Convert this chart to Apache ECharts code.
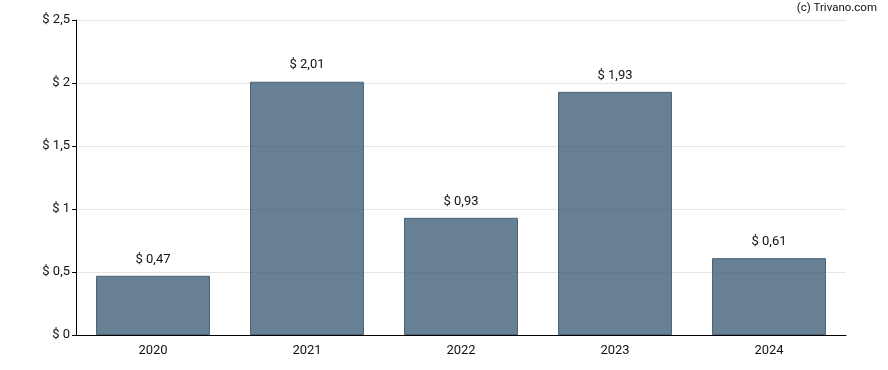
<!DOCTYPE html>
<html><head><meta charset="utf-8">
<script src="https://cdn.jsdelivr.net/npm/echarts@6/dist/echarts.min.js"></script>
<style>html,body{margin:0;padding:0;background:#fff}#c{width:888px;height:370px}</style>
</head><body><div id="c"></div>
<script>
const categories = ['2020','2021','2022','2023','2024'];
const values = [0.47, 2.01, 0.93, 1.93, 0.61];
const yTicks = [0, 0.5, 1, 1.5, 2, 2.5];
const fmt = v => '$ ' + String(v).replace('.', ',');
const chart = echarts.init(document.getElementById('c'));
chart.setOption({
  animation: false,
  textStyle: { fontFamily: 'Roboto, Arial, sans-serif' },
  graphic: [{ type: 'text', right: 11, top: 2, style: { text: '(c) Trivano.com', fontSize: 11.5, fill: '#111', fontFamily: 'Roboto, Arial, sans-serif' } }],
  grid: { left: 76, right: 42, top: 20, bottom: 35 },
  xAxis: {
    type: 'category', data: categories,
    axisLine: { lineStyle: { color: '#000', width: 1 } },
    axisTick: { alignWithLabel: true, length: 4, lineStyle: { color: '#000' } },
    axisLabel: { color: '#111', fontSize: 13, margin: 9 }
  },
  yAxis: {
    type: 'value', min: yTicks[0], max: yTicks[yTicks.length-1], interval: 0.5,
    axisLine: { show: true, lineStyle: { color: '#000', width: 1 } },
    axisTick: { show: true, length: 4, lineStyle: { color: '#000' } },
    axisLabel: { color: '#111', fontSize: 13, margin: 6, formatter: fmt },
    splitLine: { lineStyle: { color: '#e6e6e6' } }
  },
  series: [{
    type: 'bar', data: values, barWidth: '74%', z: 1,
    itemStyle: { color: 'rgba(52,86,112,0.75)', borderColor: '#4a6579', borderWidth: 1 },
    label: { show: true, position: 'top', distance: 10, color: '#111', fontSize: 13, formatter: p => fmt(p.value) }
  }]
});
</script></body></html>
